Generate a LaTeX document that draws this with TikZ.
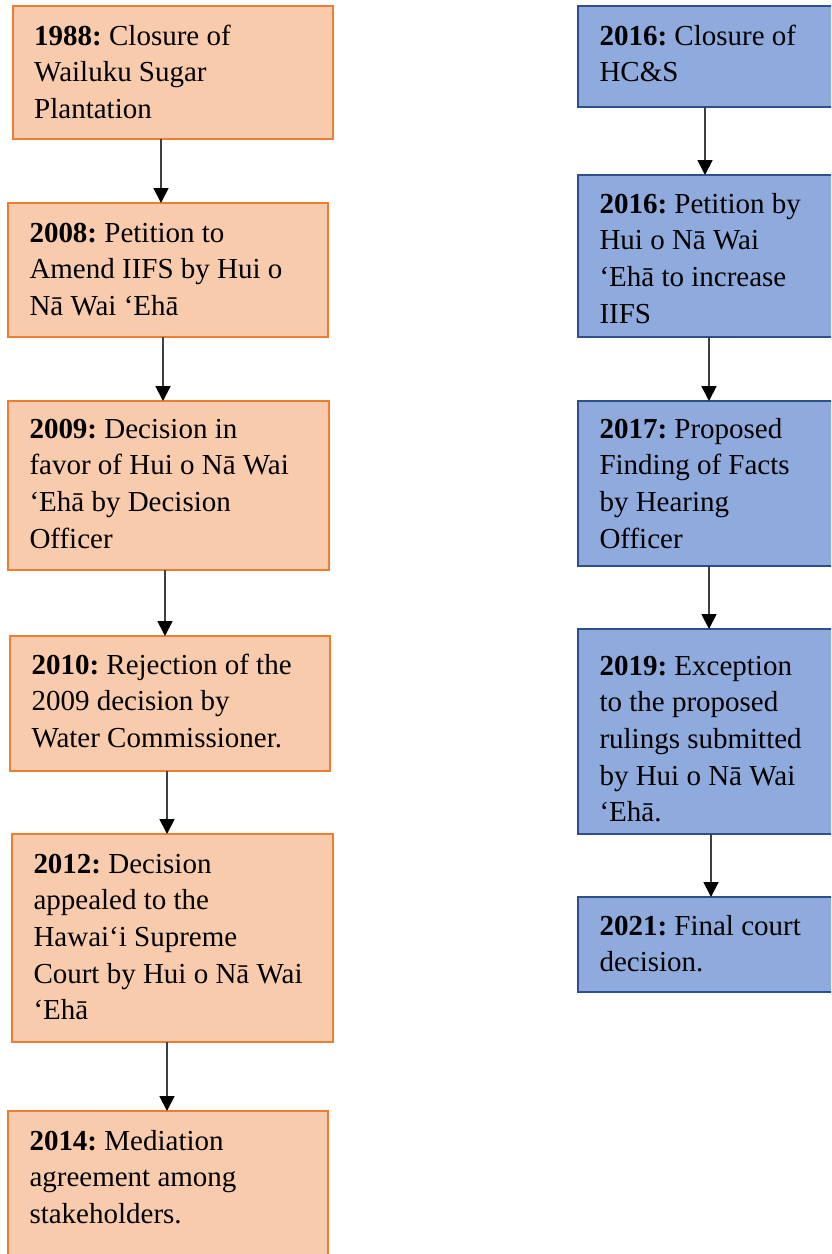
\documentclass[tikz,border=0pt]{standalone}
\usepackage{fontspec}
\setmainfont{Liberation Serif}
\usetikzlibrary{arrows.meta}
\definecolor{orangefill}{HTML}{F8CBAD}
\definecolor{orangeline}{HTML}{ED7D31}
\definecolor{bluefill}{HTML}{8FAADC}
\definecolor{blueline}{HTML}{2F4F8A}
\definecolor{flowgray}{HTML}{404040}
\begin{document}
\begin{tikzpicture}[x=1pt,y=-1pt,
    event/.style={anchor=north west, outer sep=0pt, inner xsep=21.5pt, inner ysep=0pt,
      line width=2pt, align=flush left,
      font=\fontsize{29pt}{36.7pt}\selectfont\frenchspacing},
    leftevent/.style={event, draw=orangeline, fill=orangefill},
    rightevent/.style={event, draw=blueline, fill=bluefill, text width=239pt},
    flow/.style={draw=flowgray, line width=1.8pt,
      -{Triangle[width=15pt,length=15pt,color=black]}}]
  \useasboundingbox (0,0) rectangle (831,1254);
  \clip (0,0) rectangle (831,1254);
  % left column
  \node[leftevent, text width=277.3pt, text height=39pt, text depth=94pt] (y1988) at (12.7,6)
    {\textbf{1988:} Closure of\\Wailuku Sugar\\Plantation};
  \node[leftevent, text width=277pt, text height=39pt, text depth=95pt] (y2008) at (8,203)
    {\textbf{2008:} Petition to\\Amend IIFS by Hui o\\Nā Wai ‘Ehā};
  \node[leftevent, text width=278pt, text height=37pt, text depth=132pt] (y2009) at (8,401)
    {\textbf{2009:} Decision in\\favor of Hui o Nā Wai\\‘Ehā by Decision\\Officer};
  \node[leftevent, text width=277pt, text height=38pt, text depth=97pt] (y2010) at (10,636)
    {\textbf{2010:} Rejection of the\\2009 decision by\\Water Commissioner.};
  \node[leftevent, text width=278pt, text height=39pt, text depth=169pt] (y2012) at (12,834)
    {\textbf{2012:} Decision\\appealed to the\\Hawai‘i Supreme\\Court by Hui o Nā Wai\\‘Ehā};
  \node[leftevent, text width=277pt, text height=39pt, text depth=120pt] (y2014) at (8,1111)
    {\textbf{2014:} Mediation\\agreement among\\stakeholders.};
  % right column
  \node[rightevent, text height=39pt, text depth=62pt] (y2016a) at (578,6)
    {\textbf{2016:} Closure of\\HC\&S};
  \node[rightevent, text height=38pt, text depth=124pt] (y2016b) at (578,175)
    {\textbf{2016:} Petition by\\Hui o Nā Wai\\‘Ehā to increase\\IIFS};
  \node[rightevent, text height=37pt, text depth=128pt] (y2017) at (578,401)
    {\textbf{2017:} Proposed\\Finding of Facts\\by Hearing\\Officer};
  \node[rightevent, text height=46pt, text depth=159pt] (y2019) at (578,629)
    {\textbf{2019:} Exception\\to the proposed\\rulings submitted\\by Hui o Nā Wai\\‘Ehā.};
  \node[rightevent, text height=38pt, text depth=57pt] (y2021) at (578,897)
    {\textbf{2021:} Final court\\decision.};
  % connectors
  \draw[flow] (y1988.south -| 161,0) -- (y2008.north -| 161,0);
  \draw[flow] (y2008.south -| 163,0) -- (y2009.north -| 163,0);
  \draw[flow] (y2009.south -| 165,0) -- (y2010.north -| 165,0);
  \draw[flow] (y2010.south -| 167,0) -- (y2012.north -| 167,0);
  \draw[flow] (y2012.south -| 167,0) -- (y2014.north -| 167,0);
  \draw[flow] (y2016a.south -| 705,0) -- (y2016b.north -| 705,0);
  \draw[flow] (y2016b.south -| 709,0) -- (y2017.north -| 709,0);
  \draw[flow] (y2017.south -| 709,0) -- (y2019.north -| 709,0);
  \draw[flow] (y2019.south -| 711,0) -- (y2021.north -| 711,0);
\end{tikzpicture}
\end{document}
